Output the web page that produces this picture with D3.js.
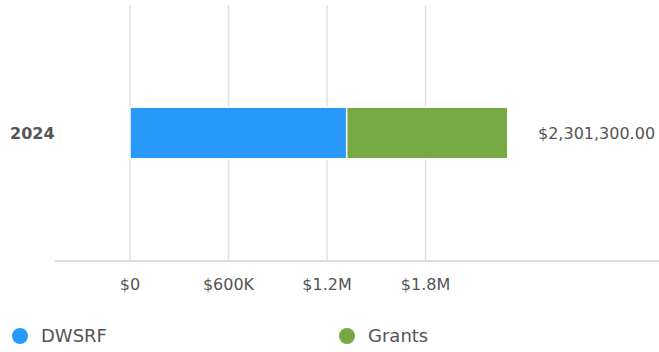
<!DOCTYPE html>
<html>
<head>
<meta charset="utf-8">
<script src="https://cdn.jsdelivr.net/npm/d3@7"></script>
<style>
  body { margin: 0; background: #fff; }
  text { font-family: "DejaVu Sans", "Noto Sans", sans-serif; }
</style>
</head>
<body>
<div id="chart"></div>
<script>
// chart data
const categories = ["2024"];
const seriesNames = ["DWSRF", "Grants"];
const seriesColors = ["#2899f9", "#76a844"];
const dwsrf = [1320000];
const grants = [981300];
const totalLabels = ["$2,301,300.00"];
const tickValues = [0, 600000, 1200000, 1800000];
const tickLabels = ["$0", "$600K", "$1.2M", "$1.8M"];

const width = 659, height = 352;

let svg = d3.select("#chart")
    .append("svg")
    .attr("width", width)
    .attr("height", height);

//build stacked rows
const rows = categories.map(function(c, i) {
    return { cat: c, DWSRF: dwsrf[i], Grants: grants[i], label: totalLabels[i] };
});
const stack = d3.stack().keys(seriesNames)(rows);

const x = d3.scaleLinear().domain([0, 2400000]).range([130, 524]);
const y = d3.scaleBand().domain(categories).range([5, 261]).paddingInner(0).paddingOuter(1.98);

//gridlines
svg.append("g")
    .selectAll("line")
    .data(tickValues)
    .join("line")
    .attr("x1", d => x(d))
    .attr("x2", d => x(d))
    .attr("y1", 5)
    .attr("y2", 260)
    .attr("stroke", "#e0e0e0")
    .attr("stroke-width", 1.5);

//baseline
svg.append("line")
    .attr("x1", 55)
    .attr("x2", 659)
    .attr("y1", 261)
    .attr("y2", 261)
    .attr("stroke", "#dcdcdc")
    .attr("stroke-width", 2);

//tick labels
svg.append("g")
    .selectAll("text")
    .data(tickValues)
    .join("text")
    .attr("x", d => x(d))
    .attr("y", 290)
    .attr("text-anchor", "middle")
    .attr("font-size", 16)
    .attr("fill", "#555")
    .text((d, i) => tickLabels[i]);

//bars
svg.append("g")
    .selectAll("g")
    .data(stack)
    .join("g")
    .attr("fill", (d, i) => seriesColors[i])
    .selectAll("rect")
    .data(d => d)
    .join("rect")
    .attr("x", d => x(d[0]))
    .attr("width", d => x(d[1]) - x(d[0]))
    .attr("y", d => y(d.data.cat))
    .attr("height", y.bandwidth())
    .attr("stroke", "#fff")
    .attr("stroke-width", 1.5);

//category labels
svg.append("g")
    .selectAll("text")
    .data(rows)
    .join("text")
    .attr("x", 10)
    .attr("y", d => y(d.cat) + y.bandwidth() / 2)
    .attr("dy", "0.35em")
    .attr("font-size", 16)
    .attr("font-weight", "bold")
    .attr("fill", "#555")
    .text(d => d.cat);

//total labels
svg.append("g")
    .selectAll("text")
    .data(rows)
    .join("text")
    .attr("x", 538)
    .attr("y", d => y(d.cat) + y.bandwidth() / 2)
    .attr("dy", "0.35em")
    .attr("font-size", 16)
    .attr("fill", "#555")
    .text(d => d.label);

//legend
const legendX = [20, 347];
let legend = svg.append("g")
    .selectAll("g")
    .data(seriesNames)
    .join("g")
    .attr("transform", (d, i) => "translate(" + legendX[i] + ",336)");
legend.append("circle")
    .attr("r", 8)
    .attr("fill", (d, i) => seriesColors[i]);
legend.append("text")
    .attr("x", 21)
    .attr("dy", "0.35em")
    .attr("font-size", 18)
    .attr("fill", "#555")
    .text(d => d);
</script>
</body>
</html>
